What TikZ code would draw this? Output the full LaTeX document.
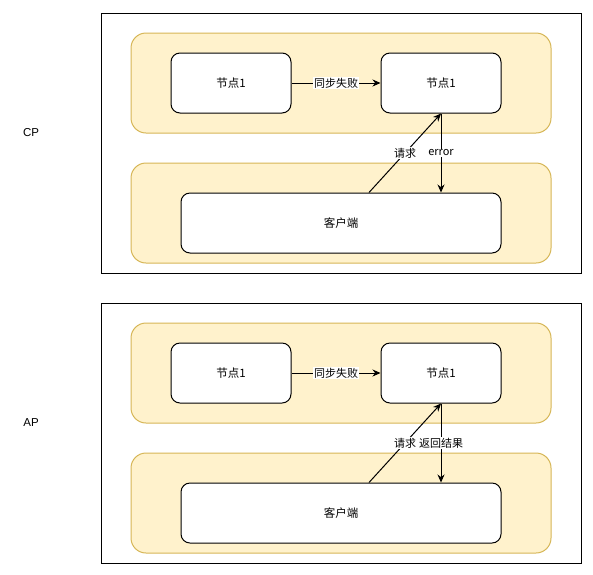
\documentclass[tikz,border=0pt]{standalone}
\usepackage{fontspec}
\setmainfont{Liberation Sans}
\newfontfamily\cjk{Noto Sans CJK SC}
\usetikzlibrary{arrows.meta, positioning}
\definecolor{bandfill}{HTML}{FFF2CC}
\definecolor{bandline}{HTML}{D6B656}

\begin{document}
\begin{tikzpicture}[x=1pt, y=-1pt, line width=1pt,
    band/.style={draw=bandline, fill=bandfill, rounded corners=15pt, minimum width=420pt, minimum height=100pt, inner sep=0pt},
    box/.style={draw, fill=white, rounded corners=9pt, minimum height=60pt, inner sep=0pt, font=\fontsize{11.5}{13}\selectfont\cjk},
    lbl/.style={fill=white, inner sep=1pt, font=\fontsize{11}{12}\selectfont\cjk},
    arr/.style={-{Stealth[length=8pt, width=7pt]}}]
  \useasboundingbox (0,0) rectangle (593,574);
  \foreach \dy/\pname/\back in {0/CP/error, 290/AP/返回结果} {
    % frame and the two bands
    \draw (101,13+\dy) rectangle (581,273+\dy);
    \node[band] (top-\pname) at (341,83+\dy) {};
    \node[band] (bot-\pname) at (341,213+\dy) {};
    \node[font=\fontsize{11.5}{13}\selectfont] (lab-\pname) at (31,133+\dy) {\pname};
    % nodes
    \node[box, minimum width=120pt] (n1-\pname) at (231,83+\dy) {节点1};
    \node[box, minimum width=120pt] (n2-\pname) at (441,83+\dy) {节点1};
    \node[box, minimum width=320pt] (cl-\pname) at (341,223+\dy) {客户端};
    % connectors
    \draw[arr] (n1-\pname) -- node[lbl] {同步失败} (n2-\pname);
    \draw[arr] ([xshift=28pt]cl-\pname.north) -- node[lbl] {请求} (n2-\pname.south);
    \draw[arr] (n2-\pname.south) -- node[lbl] {\back} (n2-\pname.south |- cl-\pname.north);
  }
\end{tikzpicture}
\end{document}
